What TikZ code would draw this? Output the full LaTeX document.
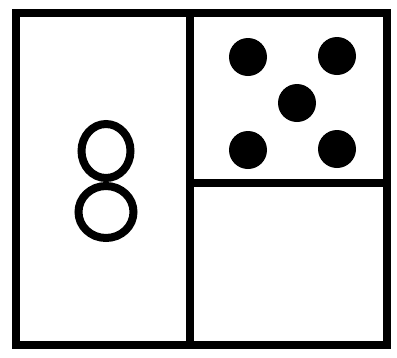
\documentclass[tikz,border=0pt]{standalone}
\begin{document}
\begin{tikzpicture}[x=1pt,y=-1pt,
  frame/.style={draw=black,line width=8pt},
  ring/.style={draw=black,line width=8pt},
  pip/.style={fill=black}]
\useasboundingbox (0,0) rectangle (397,357);
\coordinate (tl) at (16,13);
\coordinate (br) at (387,345);
\coordinate (vt) at (190,13);
\coordinate (vb) at (190,345);
\coordinate (hl) at (190,183);
\coordinate (hr) at (387,183);
\draw[frame] (tl) rectangle (br);
\draw[frame] (vt) -- (vb);
\draw[frame] (hl) -- (hr);
% figure eight
\draw[ring] (106,151) ellipse [x radius=24.5, y radius=27];
\draw[ring] (106,212) ellipse [x radius=27.5, y radius=26];
% five pips
\fill[pip] (248,57) circle (19);
\fill[pip] (337,56) circle (19);
\fill[pip] (297,103) circle (19);
\fill[pip] (248,150) circle (19);
\fill[pip] (337,149) circle (19);
\end{tikzpicture}
\end{document}
